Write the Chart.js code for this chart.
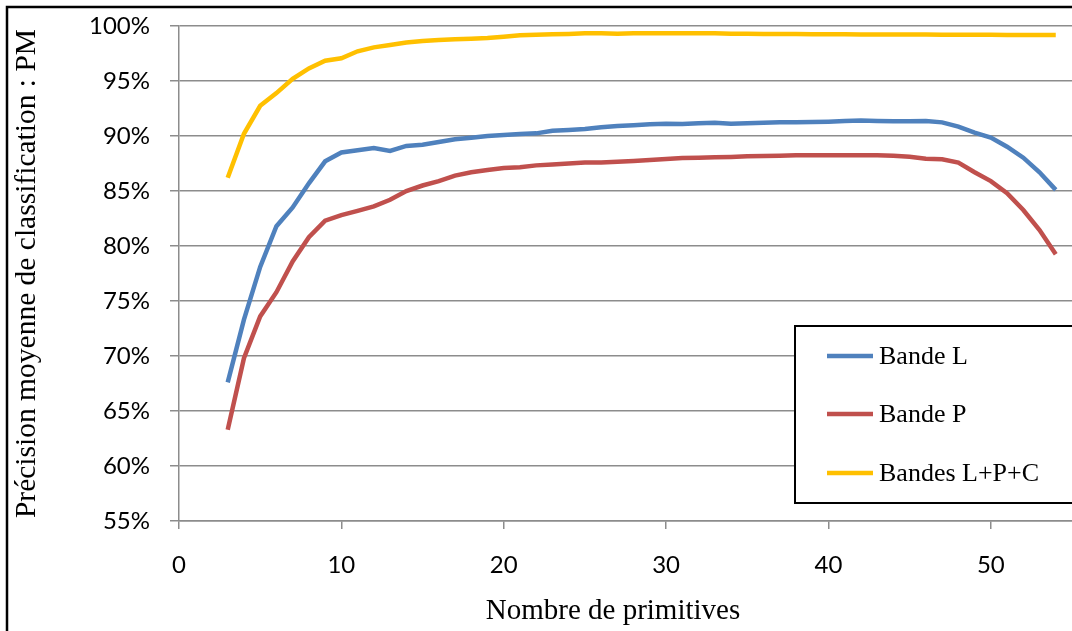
<!DOCTYPE html>
<html>
<head>
<meta charset="utf-8">
<script src="https://cdn.jsdelivr.net/npm/chart.js@4.4.1/dist/chart.umd.min.js"></script>
<style>
  html, body { margin: 0; padding: 0; background: #fff; }
  #wrap { position: relative; width: 1072px; height: 631px; }
</style>
</head>
<body>
<div id="wrap"><canvas id="myChart"></canvas></div>
<script>
// nombre de primitives (axe X)
const primitives = [3,4,5,6,7,8,9,10,11,12,13,14,15,16,17,18,19,20,21,22,23,24,25,26,27,28,
  29,30,31,32,33,34,35,36,37,38,39,40,41,42,43,44,45,46,47,48,49,50,51,52,53,54];

// précision moyenne (%) par série
const bandeL = [67.6,73.3,78.1,81.8,83.5,85.7,87.7,88.5,88.7,88.9,88.65,89.1,89.2,89.45,89.7,89.85,
  90.0,90.1,90.18,90.24,90.48,90.55,90.64,90.79,90.9,90.97,91.06,91.12,91.09,91.15,91.2,91.12,
  91.15,91.2,91.24,91.24,91.27,91.3,91.36,91.4,91.36,91.33,91.33,91.36,91.24,90.85,90.3,89.85,
  89.03,88.03,86.7,85.1];
const bandeP = [63.3,69.8,73.6,75.8,78.6,80.8,82.3,82.8,83.2,83.6,84.2,85.0,85.5,85.9,86.4,86.7,
  86.9,87.1,87.15,87.33,87.42,87.5,87.58,87.6,87.67,87.73,87.82,87.9,88.0,88.03,88.06,88.1,
  88.15,88.18,88.21,88.24,88.24,88.24,88.24,88.24,88.24,88.21,88.12,87.94,87.88,87.58,86.7,85.9,
  84.8,83.27,81.45,79.24];
const bandesLPC = [86.2,90.2,92.75,93.9,95.2,96.15,96.85,97.06,97.7,98.06,98.27,98.5,98.64,98.73,
  98.8,98.85,98.9,99.03,99.15,99.2,99.24,99.27,99.33,99.33,99.3,99.33,99.33,99.33,99.33,99.33,
  99.33,99.3,99.3,99.28,99.27,99.27,99.25,99.24,99.24,99.23,99.23,99.22,99.22,99.22,99.21,99.2,
  99.2,99.2,99.19,99.19,99.18,99.18];

const seriesLabels = ['Bande L', 'Bande P', 'Bandes L+P+C'];
const seriesColors = ['#4F81BD', '#C0504D', '#FFC000'];
const xTicks = [0, 10, 20, 30, 40, 50];
const xTitle = 'Nombre de primitives';

const toPoints = vals => vals.map((v, i) => ({ x: primitives[i], y: v }));
const serif = '"Liberation Serif", "Times New Roman", serif';

// cadre, titre X et légende dessinés à la main
const framePlugin = {
  id: 'frame',
  beforeDraw(chart) {
    const ctx = chart.ctx;
    ctx.save();
    ctx.fillStyle = '#fff';
    ctx.fillRect(0, 0, chart.width, chart.height);
    ctx.strokeStyle = '#000';
    ctx.lineWidth = 2.5;
    ctx.strokeRect(7, 7, chart.width + 20, chart.height + 20);
    ctx.restore();
  },
  afterDraw(chart) {
    const ctx = chart.ctx;
    ctx.save();
    ctx.fillStyle = '#000';
    ctx.font = '29px ' + serif;
    ctx.textAlign = 'center';
    ctx.textBaseline = 'alphabetic';
    ctx.fillText(xTitle, 613, 619);

    ctx.fillStyle = '#fff';
    ctx.fillRect(795, 326, 300, 177);
    ctx.strokeStyle = '#000';
    ctx.lineWidth = 2;
    ctx.strokeRect(795, 326, 300, 177);
    const rows = [356, 414, 473];
    chart.data.datasets.forEach((ds, i) => {
      ctx.strokeStyle = ds.borderColor;
      ctx.lineWidth = 4.5;
      ctx.beginPath();
      ctx.moveTo(827, rows[i]);
      ctx.lineTo(873, rows[i]);
      ctx.stroke();
      ctx.fillStyle = '#000';
      ctx.font = '26px ' + serif;
      ctx.textBaseline = 'middle';
      ctx.textAlign = 'left';
      ctx.fillText(ds.label, 879, rows[i] + 1);
    });
    ctx.restore();
  }
};

new Chart(document.getElementById('myChart'), {
  type: 'line',
  data: {
    datasets: [bandeL, bandeP, bandesLPC].map((vals, i) => ({
      label: seriesLabels[i],
      data: toPoints(vals),
      borderColor: seriesColors[i],
      backgroundColor: seriesColors[i],
      borderWidth: 4.5,
      pointRadius: 0,
      tension: 0,
      fill: false
    }))
  },
  options: {
    responsive: true,
    maintainAspectRatio: false,
    animation: false,
    layout: { padding: { top: 26, left: 0, right: 0, bottom: 0 } },
    plugins: {
      legend: { display: false },
      tooltip: { enabled: false }
    },
    scales: {
      x: {
        type: 'linear',
        min: 0,
        max: 55,
        afterBuildTicks: axis => { axis.ticks = xTicks.map(v => ({ value: v })); },
        afterFit: axis => { axis.height = 110; },
        grid: { drawOnChartArea: false, drawTicks: true, tickLength: 8, color: '#8c8c8c', lineWidth: 1.5 },
        border: { color: '#8c8c8c', width: 1.5 },
        ticks: {
          padding: 22,
          maxRotation: 0,
          color: '#000',
          font: { family: 'Lato', size: 24 }
        }
      },
      y: {
        min: 55,
        max: 100,
        afterFit: axis => {
          axis.width = 179;
          axis.paddingTop = 0;
          axis.paddingBottom = 0;
        },
        grid: { color: '#8c8c8c', lineWidth: 1.5, tickLength: 9 },
        border: { color: '#8c8c8c', width: 1.5 },
        ticks: {
          stepSize: 5,
          padding: 20,
          color: '#000',
          font: { family: 'Lato', size: 24 },
          callback: v => v + '%'
        },
        title: {
          display: true,
          text: 'Précision moyenne de classification : PM',
          color: '#000',
          font: { family: serif, size: 29.5 },
          padding: { top: 10, bottom: 0 }
        }
      }
    }
  },
  plugins: [framePlugin]
});
</script>
</body>
</html>
